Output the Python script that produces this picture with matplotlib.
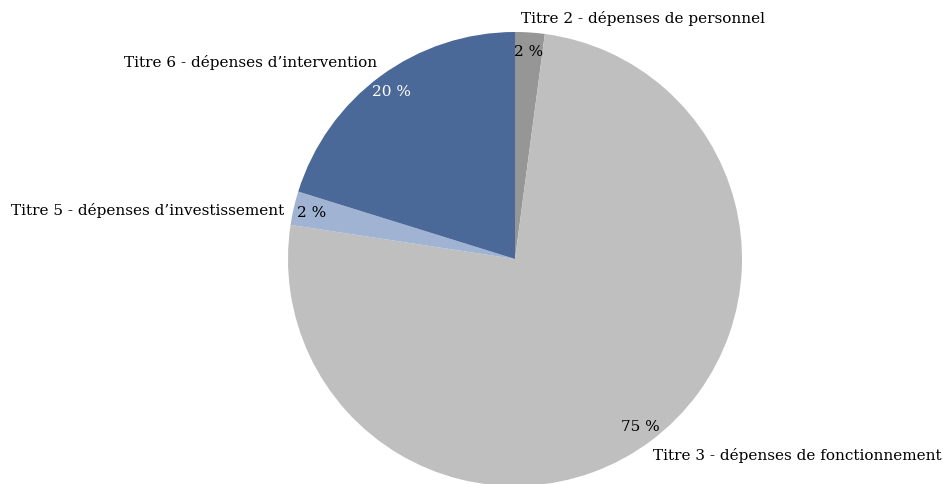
import matplotlib
matplotlib.use("Agg")
from matplotlib import pyplot as plt

# données
categories = ["Titre 2 - dépenses de personnel",
              "Titre 3 - dépenses de fonctionnement",
              "Titre 5 - dépenses d’investissement",
              "Titre 6 - dépenses d’intervention"]
values = [2.1, 75.3, 2.4, 20.2]
colors = ["#969696", "#bfbfbf", "#a0b3d3", "#4a6898"]
pct_colors = ["black", "black", "black", "white"]
# positions des étiquettes (pixels, origine en haut à gauche)
label_pos = [(643, 18), (797, 456), (148, 210), (251, 63)]

W, H = 947, 485
plt.rcParams['font.family'] = ['DejaVu Serif']

fig = plt.figure(figsize=(W / 100, H / 100), dpi=100)
ax = fig.add_axes([0, 0, 1, 1])
ax.axis('off')

wedges, texts, autotexts = ax.pie(
    values, colors=colors, startangle=90, counterclock=False,
    center=(515, H - 260), radius=227,
    autopct=lambda p: f"{p:.0f} %", pctdistance=0.92,
    textprops={'fontsize': 11})
ax.set_aspect('equal')
ax.set_xlim(0, W)
ax.set_ylim(0, H)

for t, c in zip(autotexts, pct_colors):
    t.set_color(c)

for lab, (x, y) in zip(categories, label_pos):
    ax.text(x, H - y, lab, ha='center', va='center', fontsize=11)

fig.savefig("out.png", dpi=100)
